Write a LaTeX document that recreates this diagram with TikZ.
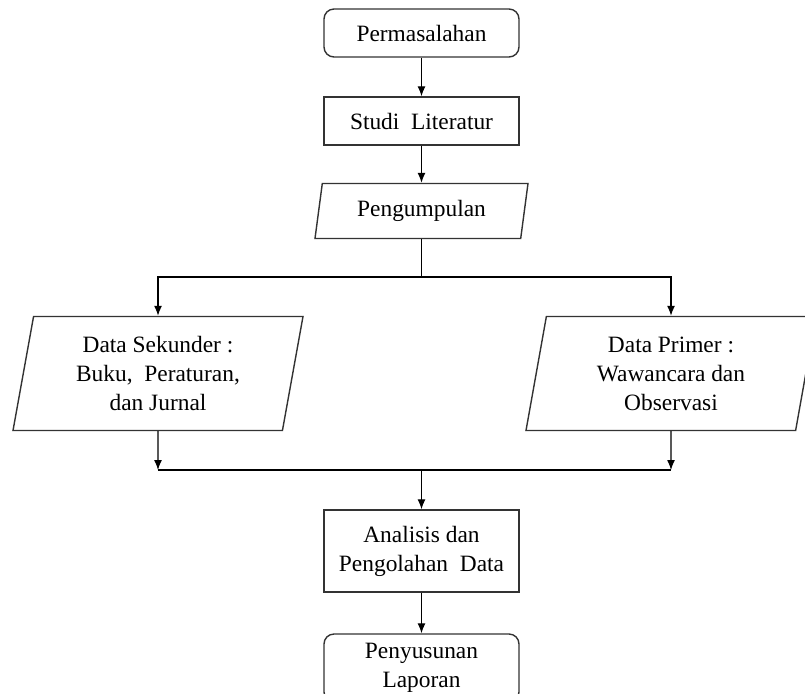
\documentclass[tikz,border=0pt]{standalone}
\usepackage{fontspec}
\setmainfont{Liberation Serif}
\usetikzlibrary{arrows.meta, shapes.geometric}

\begin{document}
\begin{tikzpicture}[
  x=0.5pt, y=-0.5pt,
  every node/.style={font=\fontsize{11.7}{14.5}\selectfont},
  proc/.style={rectangle, draw=black!80, line width=0.7pt, minimum width=97.5pt, minimum height=#1, align=center, inner sep=2pt},
  term/.style={proc=#1, rounded corners=5pt},
  data/.style={trapezium, trapezium left angle=76, trapezium right angle=104, trapezium stretches body, draw=black!80, line width=0.7pt, minimum width=#1, align=center, inner sep=2pt},
  edge/.style={-{Latex[length=5pt, width=4pt]}, line width=0.65pt},
]
\useasboundingbox (0,0) rectangle (805,693);

% Main flow
\node[term=24pt] (perm) at (421.5, 33) {Permasalahan};
\node[proc=24pt] (studi) at (421.5, 121) {Studi\ \ Literatur};
\node[data=106.5pt, minimum height=27.5pt] (peng) at (421.5, 211) {Pengumpulan};

% Data sources
\node[data=145pt, minimum height=57pt] (sek) at (158, 373.5) {Data Sekunder\ :\\Buku,\ \ Peraturan,\\dan Jurnal};
\node[data=145pt, minimum height=57pt] (prim) at (671, 373.5) {Data Primer :\\Wawancara dan\\Observasi};

% Processing and report
\node[proc=41pt] (anal) at (421.5, 551) {Analisis dan\\Pengolahan\ \ Data};
\node[term=34pt] (peny) at (421.5, 668) {Penyusunan\\Laporan};

\coordinate (split) at (421.5, 277);
\coordinate (merge) at (421.5, 470);

% Edges
\draw[edge] (perm) -- (studi);
\draw[edge] (studi) -- (peng);
\draw[line width=0.65pt] (peng) -- (split);
\draw[edge] (split) -| (sek);
\draw[edge] (split) -| (prim);
\draw[edge] (sek) -- (sek |- merge);
\draw[edge] (prim) -- (prim |- merge);
\draw[line width=0.65pt] (sek |- merge) -- (prim |- merge);
\draw[edge] (merge) -- (anal);
\draw[edge] (anal) -- (peny);

\end{tikzpicture}
\end{document}
